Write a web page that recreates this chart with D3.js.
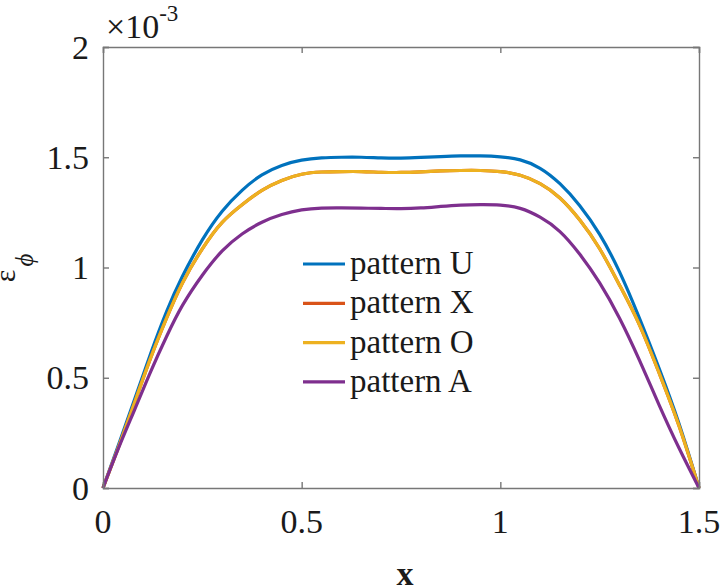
<!DOCTYPE html>
<html>
<head>
<meta charset="utf-8">
<script src="https://cdn.jsdelivr.net/npm/d3@7"></script>
<style>
  html, body { margin: 0; padding: 0; background: #fff; }
  svg { display: block; }
</style>
</head>
<body>
<svg id="chart" width="722" height="585"></svg>
<script>
// ---- data (values in units of 1e-3) ----
const xValues = [0, 0.04, 0.08, 0.12, 0.16, 0.2, 0.25, 0.3, 0.35, 0.4, 0.45, 0.5, 0.55, 0.6, 0.65, 0.7, 0.75, 0.8, 0.85, 0.9, 0.95, 1.0, 1.05, 1.1, 1.15, 1.2, 1.25, 1.3, 1.35, 1.4, 1.45, 1.5];
const patternU = [0, 0.2, 0.405, 0.61, 0.8, 0.96, 1.125, 1.255, 1.35, 1.42, 1.463, 1.487, 1.497, 1.5, 1.5, 1.497, 1.496, 1.499, 1.503, 1.506, 1.506, 1.502, 1.488, 1.45, 1.38, 1.28, 1.15, 0.98, 0.77, 0.54, 0.29, 0];
const patternX = [0, 0.19, 0.39, 0.59, 0.77, 0.93, 1.085, 1.205, 1.285, 1.35, 1.395, 1.423, 1.433, 1.435, 1.435, 1.432, 1.431, 1.434, 1.438, 1.44, 1.44, 1.435, 1.418, 1.38, 1.315, 1.215, 1.085, 0.92, 0.74, 0.52, 0.28, 0];
const patternO = [0, 0.19, 0.39, 0.59, 0.77, 0.93, 1.085, 1.205, 1.285, 1.35, 1.395, 1.423, 1.433, 1.435, 1.435, 1.432, 1.431, 1.434, 1.438, 1.44, 1.44, 1.435, 1.418, 1.38, 1.315, 1.215, 1.085, 0.92, 0.74, 0.52, 0.28, 0];
const patternA = [0, 0.185, 0.357, 0.528, 0.687, 0.828, 0.965, 1.075, 1.152, 1.205, 1.24, 1.261, 1.269, 1.27, 1.269, 1.268, 1.267, 1.27, 1.277, 1.283, 1.285, 1.283, 1.268, 1.228, 1.163, 1.06, 0.93, 0.77, 0.58, 0.375, 0.18, 0];
const seriesNames = ["pattern U", "pattern X", "pattern O", "pattern A"];
const seriesColors = ["#0072BD", "#D95319", "#EDB120", "#7E2F8E"];
const xTicks = [0, 0.5, 1, 1.5];
const xTickLabels = ["0", "0.5", "1", "1.5"];
const yTicks = [0, 0.5, 1, 1.5, 2];
const yTickLabels = ["0", "0.5", "1", "1.5", "2"];

const seriesValues = [patternU, patternX, patternO, patternA];

const FONT = "'Liberation Serif', 'Times New Roman', serif";
const TXT = "#1a1a1a";
const svg = d3.select("#chart");
const L = 103, R = 699, T = 47, B = 488;
const x = d3.scaleLinear().domain([0, 1.5]).range([L, R]);
const y = d3.scaleLinear().domain([0, 2]).range([B, T]);
const axisColor = "#777";
const tickLen = 6;

// lines
const line = d3.line().x(d => x(d[0])).y(d => y(d[1])).curve(d3.curveNatural);
const plot = svg.append("g");
seriesValues.forEach((vals, i) => {
  plot.append("path")
    .attr("d", line(xValues.map((xv, j) => [xv, vals[j]])))
    .attr("fill", "none")
    .attr("stroke", seriesColors[i])
    .attr("stroke-width", 3.2)
    .attr("stroke-linejoin", "round");
});

// axes (box with inward ticks)
const ax = svg.append("g");
const axBottom = d3.axisBottom(x).tickValues(xTicks).tickSize(-tickLen).tickFormat("");
const axTop = d3.axisTop(x).tickValues(xTicks).tickSize(-tickLen).tickFormat("");
const axLeft = d3.axisLeft(y).tickValues(yTicks).tickSize(-tickLen).tickFormat("");
const axRight = d3.axisRight(y).tickValues(yTicks).tickSize(-tickLen).tickFormat("");
ax.append("g").attr("transform", `translate(0,${B})`).call(axBottom);
ax.append("g").attr("transform", `translate(0,${T})`).call(axTop);
ax.append("g").attr("transform", `translate(${L},0)`).call(axLeft);
ax.append("g").attr("transform", `translate(${R},0)`).call(axRight);
ax.selectAll(".domain").attr("stroke", axisColor).attr("stroke-width", 1.4);
ax.selectAll(".tick line").attr("stroke", axisColor).attr("stroke-width", 1.4);

function txt(sel) { return sel.attr("font-family", FONT).attr("fill", TXT); }

// tick labels
txt(svg.append("g").selectAll("text").data(xTicks).join("text"))
  .attr("x", d => x(d)).attr("y", 533)
  .attr("text-anchor", "middle").attr("font-size", 34)
  .text((d, i) => xTickLabels[i]);
txt(svg.append("g").selectAll("text").data(yTicks).join("text"))
  .attr("x", 89).attr("y", d => y(d) + 11.5)
  .attr("text-anchor", "end").attr("font-size", 34)
  .text((d, i) => yTickLabels[i]);

// exponent
const ex = txt(svg.append("text")).attr("x", 106).attr("y", 38).attr("font-size", 34);
ex.append("tspan").text("\u00D710");
ex.append("tspan").attr("font-size", 23).attr("dy", -17).text("-3");

// axis labels
txt(svg.append("text")).attr("x", 405).attr("y", 585).attr("text-anchor", "middle")
  .attr("font-size", 34).attr("font-weight", "bold").text("x");
txt(svg.append("text")).attr("transform", "translate(15,276) rotate(-90)")
  .attr("text-anchor", "middle").attr("font-size", 30).text("\u03B5");
txt(svg.append("text")).attr("transform", "translate(33,260) rotate(-90)")
  .attr("text-anchor", "middle").attr("font-size", 25).attr("font-style", "italic").text("\u03D5");

// legend
const lg = svg.append("g");
seriesNames.forEach((name, i) => {
  const ly = 264 + i * 39.3;
  lg.append("line").attr("x1", 303).attr("x2", 345).attr("y1", ly).attr("y2", ly)
    .attr("stroke", seriesColors[i]).attr("stroke-width", 3.2);
  txt(lg.append("text")).attr("x", 350).attr("y", ly + 10).attr("font-size", 33).text(name);
});
</script>
</body>
</html>
